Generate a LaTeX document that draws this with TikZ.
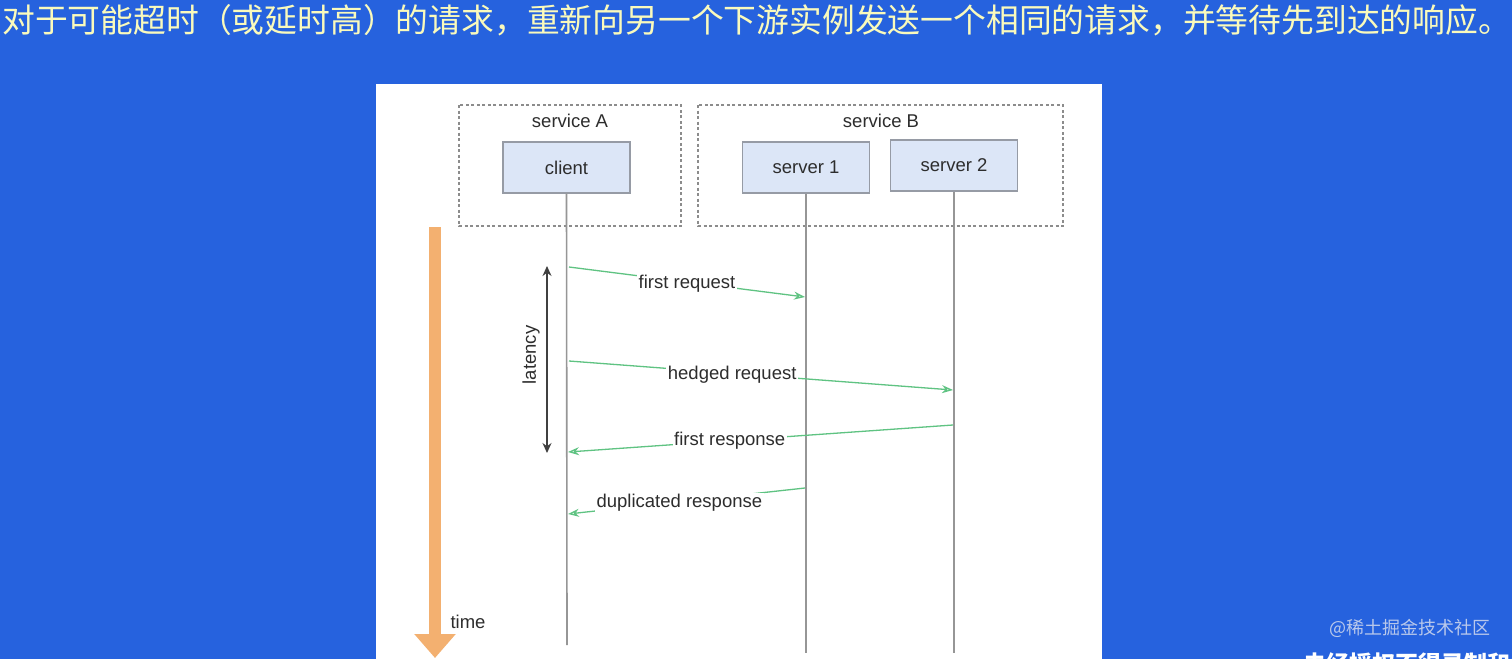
\documentclass[tikz,border=0pt]{standalone}
\usepackage{fontspec}
\setmainfont{Liberation Sans}
\newfontfamily\cjk{Noto Sans CJK SC}
\usetikzlibrary{arrows.meta}
\definecolor{bgblue}{RGB}{38,98,222}
\definecolor{titlecol}{RGB}{250,250,188}
\definecolor{boxfill}{RGB}{220,230,247}
\definecolor{boxline}{RGB}{150,155,165}
\definecolor{dashcol}{RGB}{140,140,140}
\definecolor{lifecol}{RGB}{150,150,150}
\definecolor{greencol}{RGB}{95,195,130}
\definecolor{orangecol}{RGB}{243,176,112}
\definecolor{textcol}{RGB}{45,45,45}
\definecolor{wmcol}{RGB}{185,200,235}
\tikzset{
  lbl/.style={font=\fontsize{18.5}{20}\selectfont, text=textcol, inner sep=1pt},
  actor/.style={draw=boxline, line width=1.3pt, fill=boxfill, minimum width=127pt, minimum height=51pt, font=\fontsize{18.5}{20}\selectfont, text=textcol},
  group/.style={draw=dashcol, line width=1.3pt, dash pattern=on 3pt off 2.5pt},
  life/.style={draw=lifecol, line width=1.6pt},
  msg/.style={draw=greencol, line width=1.3pt, -{Stealth[length=11pt,width=8pt,open]}},
  msglbl/.style={lbl, fill=white, inner sep=1.5pt},
}
\begin{document}
\begin{tikzpicture}[x=1pt,y=-1pt]
\useasboundingbox (0,0) rectangle (1512,659);
\clip (0,0) rectangle (1512,659);
\fill[bgblue] (0,0) rectangle (1512,659);
\fill[white] (376,84) rectangle (1102,665);
% title
\node[anchor=west, inner sep=0pt, text=titlecol, font=\cjk\fontsize{32.8}{36}\selectfont] (title) at (2,20) {对于可能超时（或延时高）的请求，重新向另一个下游实例发送一个相同的请求，并等待先到达的响应。};
% groups
\draw[group] (459,105) rectangle (681,226);
\draw[group] (698,105) rectangle (1063,226);
\node[lbl] (sa) at (570,121) {service A};
\node[lbl] (sb) at (881,121) {service B};
% actors
\node[actor] (client) at (566.5,167.5) {client};
\node[actor] (s1) at (806,167.5) {server 1};
\node[actor] (s2) at (954,165.5) {server 2};
% lifeline ends
\coordinate (cEnd) at (567,645);
\coordinate (s1End) at (806,653);
\coordinate (s2End) at (954,653);
\draw[life] (client.south) -- (cEnd);
\draw[life] (s1.south) -- (s1End);
\draw[life] (s2.south) -- (s2End);
% message points
\coordinate (c1) at (569,267);
\coordinate (s1a) at (805,297);
\coordinate (c2) at (569,361);
\coordinate (s2a) at (953,390);
\coordinate (s2b) at (953,425);
\coordinate (c3) at (568,452);
\coordinate (s1b) at (805,488);
\coordinate (c4) at (568,514);
\draw[msg] (c1) -- node[msglbl, pos=0.5, yshift=-2pt] (m1) {first request} (s1a);
\draw[msg] (c2) -- node[msglbl, pos=0.425, yshift=-1pt] (m2) {hedged request} (s2a);
\draw[msg] (s2b) -- node[msglbl, pos=0.58] (m3) {first response} (c3);
\draw[msg] (s1b) -- node[msglbl, pos=0.53, yshift=-1pt] (m4) {duplicated response} (c4);
% latency
\coordinate (latTop) at (547,266);
\coordinate (latBot) at (547,453);
\draw[draw=black!75, line width=1.2pt, {Stealth[length=10pt,width=9pt]}-{Stealth[length=10pt,width=9pt]}] (latTop) -- (latBot);
\node[lbl, rotate=90] (lat) at (531,355) {latency};
% time arrow
\coordinate (tTop) at (435,227);
\coordinate (tBot) at (435,658);
\draw[draw=orangecol, line width=12pt, -{Triangle[length=24pt,width=40pt]}] (tTop) -- (tBot);
\node[lbl] (time) at (468,622) {time};
% watermarks
\node[text=wmcol, font=\cjk\fontsize{18}{20}\selectfont, inner sep=0pt] (wm) at (1410,628) {@稀土掘金技术社区};
\node[anchor=west, text=white, font=\cjk\bfseries\fontsize{23}{25}\selectfont, inner sep=0pt] (wm2) at (1303,664) {未经授权不得录制和传播};
\end{tikzpicture}
\end{document}
